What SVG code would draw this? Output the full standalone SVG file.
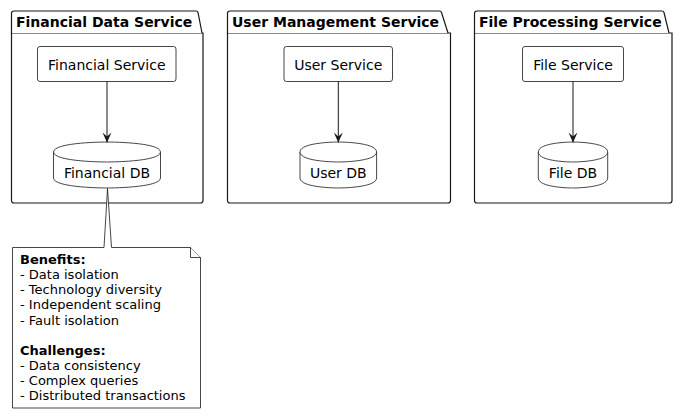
<svg xmlns="http://www.w3.org/2000/svg" width="678" height="414" viewBox="0 0 678 414">
<defs>
<style>
.pkg{fill:#FFFFFF;stroke:#181818;stroke-width:1.2}
.box{fill:#FFFFFF;stroke:#181818;stroke-width:0.8}
.ttl{font-family:"DejaVu Sans",sans-serif;font-size:14px;font-weight:bold;fill:#000000}
.lbl{font-family:"DejaVu Sans",sans-serif;font-size:14px;fill:#000000;text-anchor:middle}
.nt{font-family:"DejaVu Sans",sans-serif;font-size:13px;fill:#000000}
.nt .b{font-weight:bold}
.edge{stroke:#181818;stroke-width:1;fill:none}
</style>
<marker id="arr" viewBox="-2 0 12 10" refX="9" refY="5" markerWidth="12" markerHeight="10" markerUnits="userSpaceOnUse" orient="auto">
<polygon points="9,5 -1,0.5 3,5 -1,9.5" fill="#181818"/>
</marker>
</defs>
<rect width="678" height="414" fill="#FFFFFF"/>

<g id="pkg-financial">
<path class="pkg" d="M11.5,33 H203 V200.5 Q203,203 200.5,203 H14 Q11.5,203 11.5,200.5 Z"/>
<path class="pkg" d="M11.5,33 V13.5 Q11.5,11 14,11 H196 Q197.5,11 198,12.5 L202,33"/>
<text class="ttl" x="16" y="26.5">Financial Data Service</text>
</g>
<g id="pkg-user">
<path class="pkg" d="M227.5,33 H450.5 V200.5 Q450.5,203 448,203 H230 Q227.5,203 227.5,200.5 Z"/>
<path class="pkg" d="M227.5,33 V13.5 Q227.5,11 230,11 H439.5 Q441,11 441.5,12.5 L448,33"/>
<text class="ttl" x="232" y="26.5">User Management Service</text>
</g>
<g id="pkg-file">
<path class="pkg" d="M474.5,33 H672 V200.5 Q672,203 669.5,203 H477 Q474.5,203 474.5,200.5 Z"/>
<path class="pkg" d="M474.5,33 V13.5 Q474.5,11 477,11 H662 Q663.5,11 664,12.5 L669,33"/>
<text class="ttl" x="479" y="26.5">File Processing Service</text>
</g>

<g id="financial-service">
<rect class="box" x="37.5" y="46.5" width="138.5" height="35" rx="2.5"/>
<text class="lbl" x="106.75" y="69.5">Financial Service</text>
</g>
<g id="financial-db">
<path class="box" d="M53.5,152 C53.5,142 107,142 107,142 C107,142 160.5,142 160.5,152 L160.5,178 C160.5,188 107,188 107,188 C107,188 53.5,188 53.5,178 Z"/>
<path class="box" d="M53.5,152 C53.5,162 107,162 107,162 C107,162 160.5,162 160.5,152"/>
<text class="lbl" x="107" y="177.5">Financial DB</text>
</g>

<g id="user-service">
<rect class="box" x="284" y="46.5" width="108.5" height="35" rx="2.5"/>
<text class="lbl" x="338.25" y="69.5">User Service</text>
</g>
<g id="user-db">
<path class="box" d="M300,152 C300,142 338.3,142 338.3,142 C338.3,142 376.6,142 376.6,152 L376.6,178 C376.6,188 338.3,188 338.3,188 C338.3,188 300,188 300,178 Z"/>
<path class="box" d="M300,152 C300,162 338.3,162 338.3,162 C338.3,162 376.6,162 376.6,152"/>
<text class="lbl" x="338.3" y="177.5">User DB</text>
</g>

<g id="file-service">
<rect class="box" x="522.5" y="46.5" width="101" height="35" rx="2.5"/>
<text class="lbl" x="573" y="69.5">File Service</text>
</g>
<g id="file-db">
<path class="box" d="M538.3,152 C538.3,142 573,142 573,142 C573,142 607.7,142 607.7,152 L607.7,178 C607.7,188 573,188 573,188 C573,188 538.3,188 538.3,178 Z"/>
<path class="box" d="M538.3,152 C538.3,162 573,162 573,162 C573,162 607.7,162 607.7,152"/>
<text class="lbl" x="573" y="177.5">File DB</text>
</g>

<g id="connectors">
<line class="edge" x1="107" y1="81.5" x2="107" y2="142.5" marker-end="url(#arr)"/>
<line class="edge" x1="338.3" y1="81.5" x2="338.3" y2="142.5" marker-end="url(#arr)"/>
<line class="edge" x1="573" y1="81.5" x2="573" y2="142.5" marker-end="url(#arr)"/>
</g>

<g id="note">
<path class="box" d="M12.5,247.5 H104 L107.5,188.5 L111.5,247.5 H190.5 L200.5,257.5 V408 H12.5 Z"/>
<path class="box" d="M190.5,247.5 V257.5 H200.5"/>
<text class="nt" x="20">
<tspan class="b" x="20" y="264">Benefits:</tspan>
<tspan x="20" y="279.1">- Data isolation</tspan>
<tspan x="20" y="294.3">- Technology diversity</tspan>
<tspan x="20" y="309.4">- Independent scaling</tspan>
<tspan x="20" y="324.5">- Fault isolation</tspan>
<tspan class="b" x="20" y="354.8">Challenges:</tspan>
<tspan x="20" y="369.9">- Data consistency</tspan>
<tspan x="20" y="385">- Complex queries</tspan>
<tspan x="20" y="400.2">- Distributed transactions</tspan>
</text>
</g>
</svg>
